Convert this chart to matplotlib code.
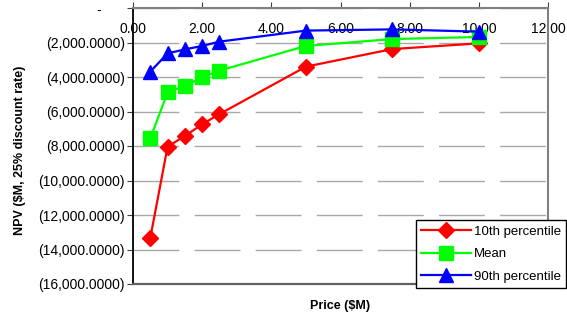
import matplotlib.pyplot as plt
from matplotlib.ticker import FuncFormatter

plt.rcParams['font.family'] = ['Liberation Sans', 'DejaVu Sans']

price = [0.5, 1.0, 1.5, 2.0, 2.5, 5.0, 7.5, 10.0]
npv_p10 = [-13330, -8040, -7420, -6740, -6150, -3400, -2380, -2050]
npv_mean = [-7560, -4890, -4520, -4020, -3630, -2200, -1800, -1680]
npv_p90 = [-3690, -2630, -2400, -2200, -1950, -1310, -1240, -1370]


def acct(v, pos):
    if abs(v) < 1e-9:
        return "-      "
    return "({:,.4f})".format(abs(v))


fig = plt.figure(figsize=(5.67, 3.18), dpi=100)
ax = fig.add_axes([133 / 567, 34 / 318, 415 / 567, 276 / 318])

ax.plot(price, npv_p10, color="#FF0000", lw=1.6, marker="D", ms=8.5, label="10th percentile")
ax.plot(price, npv_mean, color="#00FF00", lw=1.6, marker="s", ms=9.5, label="Mean")
ax.plot(price, npv_p90, color="#0000FF", lw=1.6, marker="^", ms=10.5, label="90th percentile")

ax.set_xlim(0, 12)
ax.set_ylim(-16000, 0)
ax.set_xticks(range(0, 13, 2))
ax.xaxis.set_major_formatter(FuncFormatter(lambda v, p: "{:.2f}".format(v)))
ax.set_yticks(range(-16000, 1, 2000))
ax.yaxis.set_major_formatter(FuncFormatter(acct))

ax.tick_params(axis="x", top=True, bottom=False, labeltop=True, labelbottom=False,
               direction="out", length=4, pad=-24, labelsize=10, color="#404040")
ax.tick_params(axis="y", direction="out", length=4, labelsize=10, pad=2, color="#404040")

ax.yaxis.grid(True, color="#A8A8A8", lw=1.0, dashes=(33, 11))
ax.set_axisbelow(True)

ax.spines["left"].set_color("black")
ax.spines["left"].set_linewidth(1.3)
ax.spines["bottom"].set_color("#606060")
ax.spines["bottom"].set_linewidth(1.6)
for s in ["top", "right"]:
    ax.spines[s].set_color("#808080")
    ax.spines[s].set_linewidth(1.5)

fig.text(20 / 567, 1 - 150 / 318, "NPV ($M, 25% discount rate)", rotation=90,
         ha="center", va="center", fontsize=9, fontweight="bold")
fig.text(340 / 567, 1 - 306 / 318, "Price ($M)", ha="center", va="center",
         fontsize=9, fontweight="bold")

leg = ax.legend(loc="upper right", bbox_to_anchor=(566 / 567, 1 - 220 / 318),
                bbox_transform=fig.transFigure, fontsize=9.5, numpoints=1,
                handlelength=3.8, fancybox=False, framealpha=1, borderaxespad=0,
                handletextpad=0.2, labelspacing=0.8, borderpad=0.4)
leg.get_frame().set_edgecolor("black")
leg.get_frame().set_linewidth(1.0)

fig.savefig("out.png", dpi=100)
